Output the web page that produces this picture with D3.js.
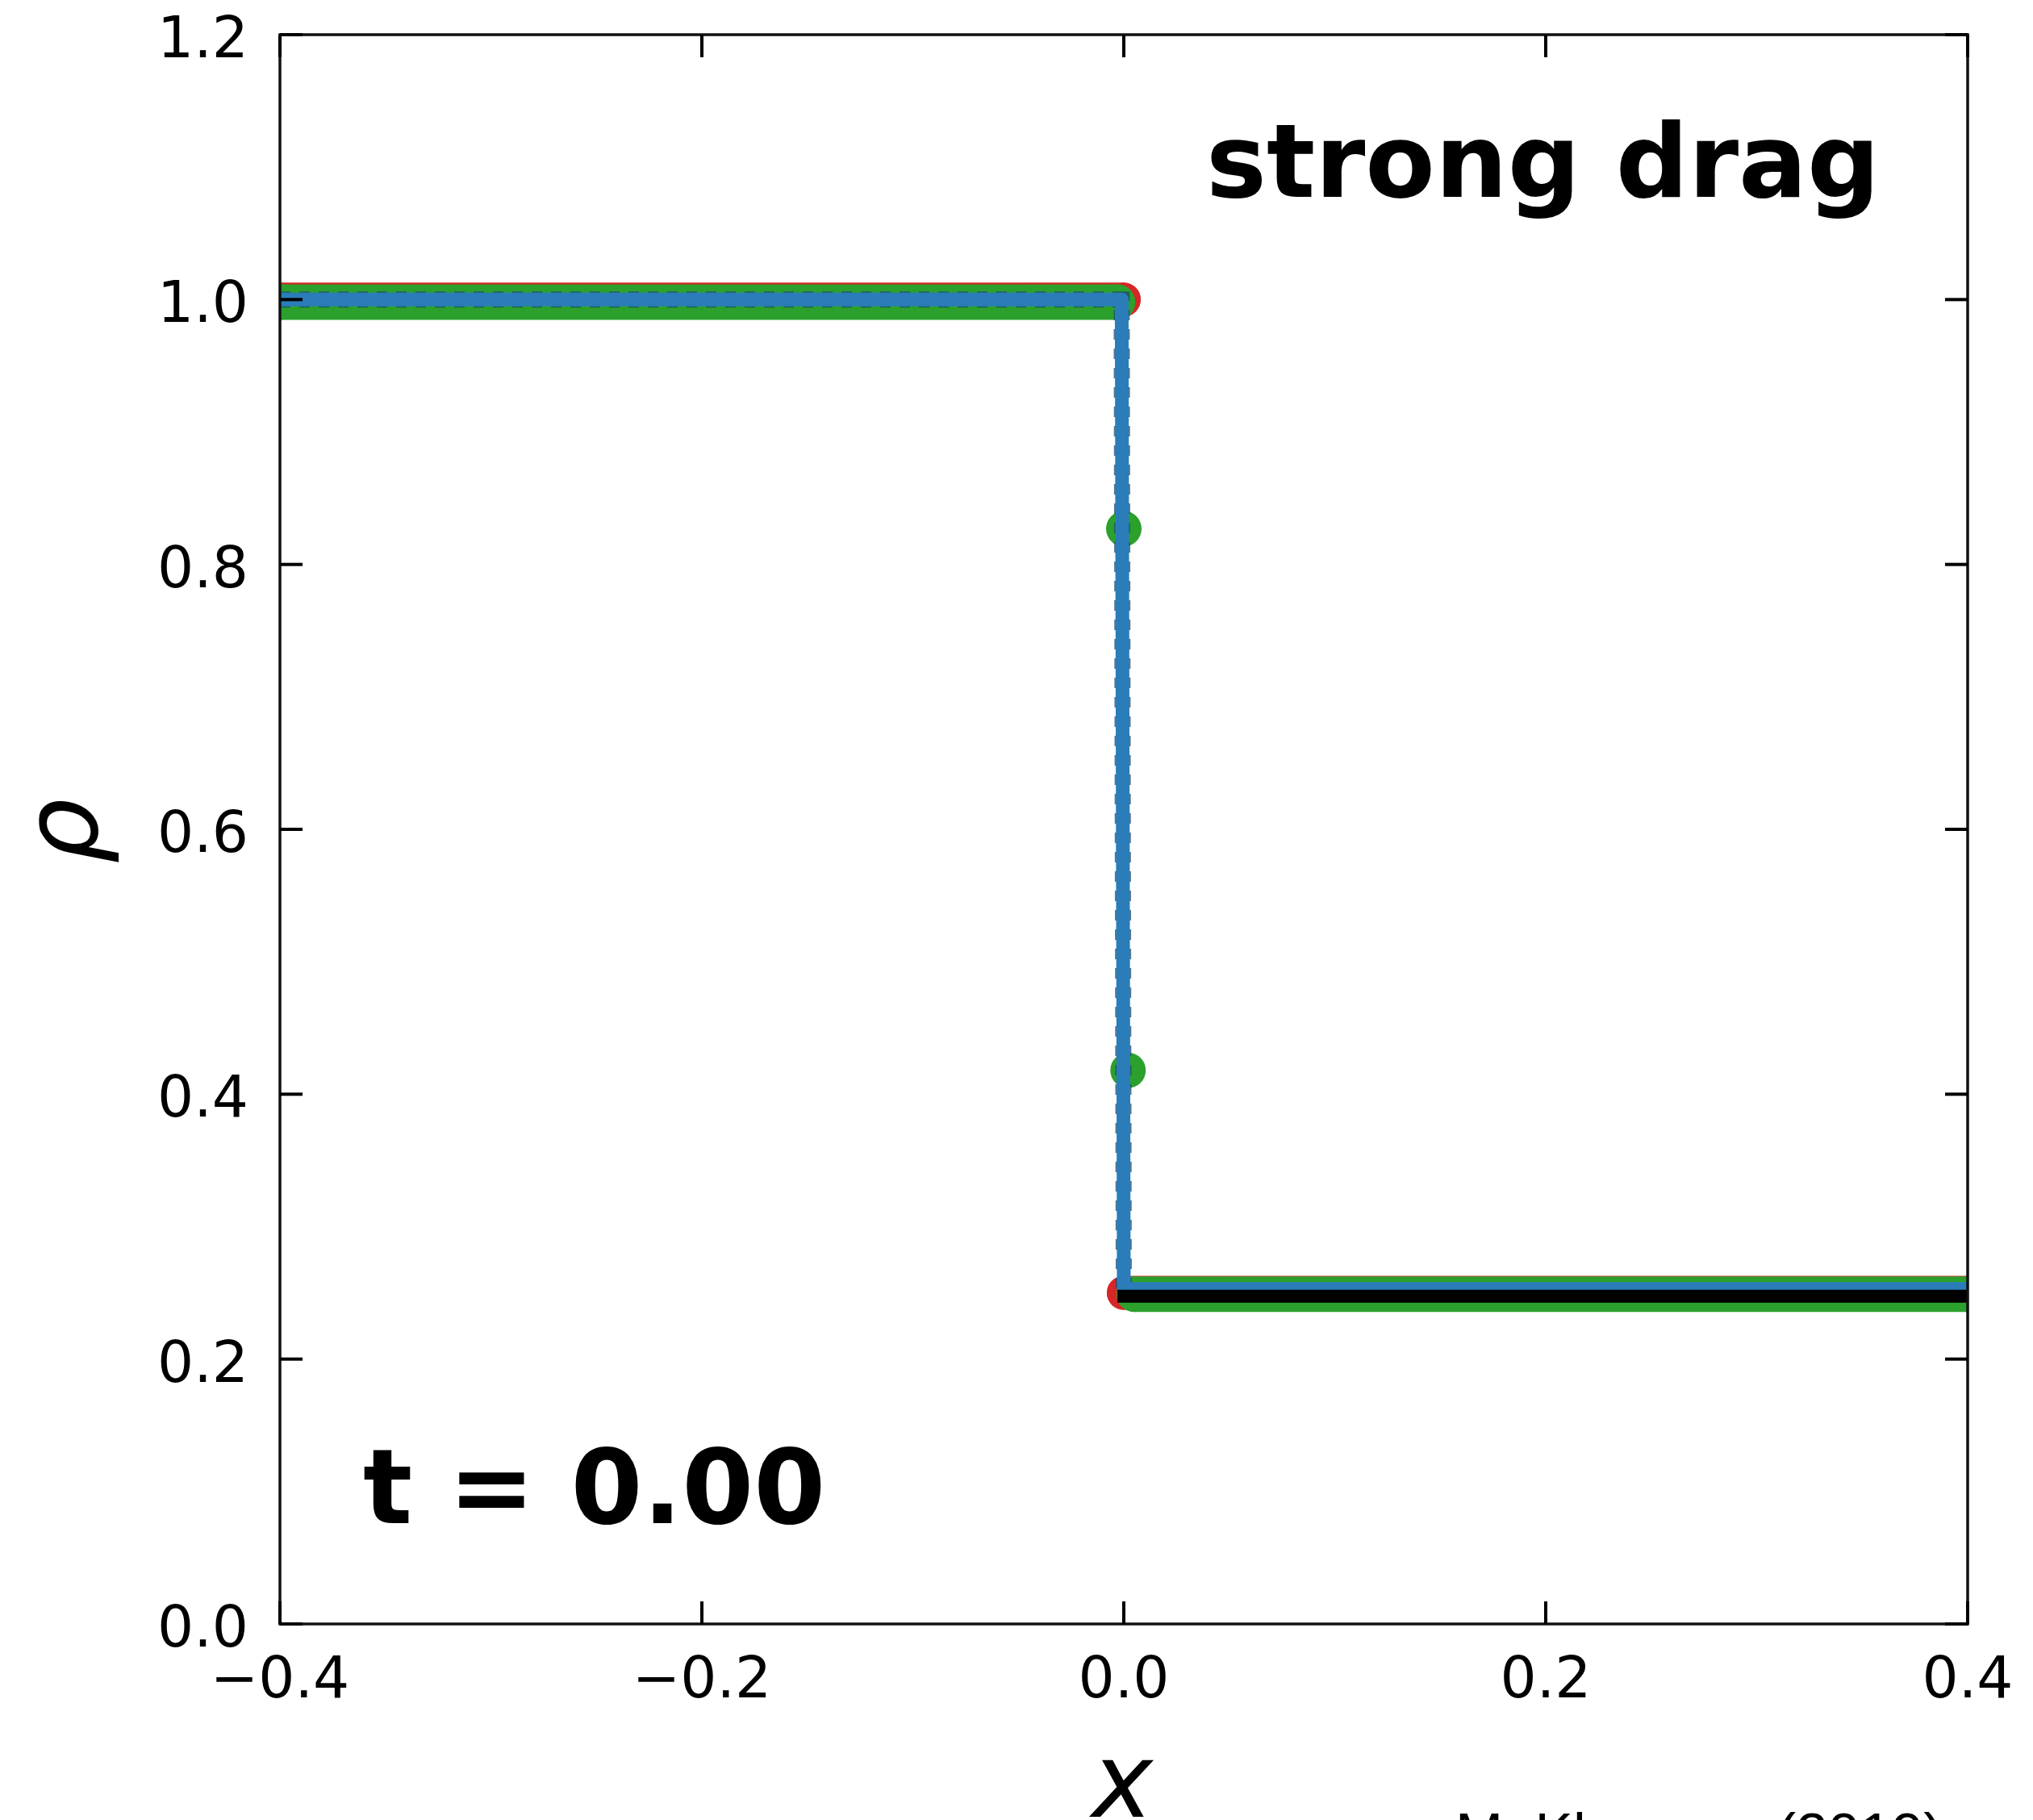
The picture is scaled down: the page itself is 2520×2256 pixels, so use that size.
<!DOCTYPE html>
<html lang="en">

<head>
    <meta charset="UTF-8" />
    <title>Dust-gas shock tube - strong drag</title>
    <script src="https://d3js.org/d3.v7.min.js"></script>
    <style>
        body { margin: 0; background: white; }
    </style>
</head>

<body>
    <script>
        // axis ticks
        var xTicks = [-0.4, -0.2, 0.0, 0.2, 0.4];
        var yTicks = [0.0, 0.2, 0.4, 0.6, 0.8, 1.0, 1.2];

        // red markers (analytic state)
        var redX = [-0.4, 0.0, 0.0, 0.4];
        var redRho = [1.0, 1.0, 0.25, 0.25];

        // green markers (cells)
        var greenX = [-0.4, -0.003, 0.0, 0.002, 0.005, 0.4];
        var greenRho = [0.998, 0.998, 0.827, 0.418, 0.249, 0.249];

        // dark dashed line
        var dashX = [-0.4, -0.001, 0.0, 0.4];
        var dashRho = [1.0, 1.0, 0.25, 0.25];

        // blue solid line
        var blueX = [-0.4, -0.001, 0.0, 0.4];
        var blueRho = [1.0, 1.0, 0.253, 0.253];

        // black line, right state
        var blackX = [-0.003, 0.4];
        var blackRho = [0.2475, 0.2475];

        var w = 2520;
        var h = 2256;
        // note: "top" clashes with window.top, so prefix these
        var plotLeft = 347, plotRight = 2439, plotTop = 43, plotBottom = 2013;

        var xScale = d3.scaleLinear()
            .domain([-0.4, 0.4])
            .range([plotLeft, plotRight]);

        var yScale = d3.scaleLinear()
            .domain([0, 1.2])
            .range([plotBottom, plotTop]);

        var svg = d3.select("body")
            .append("svg")
            .attr("width", w)
            .attr("height", h)
            .style("display", "block");

        svg.append("rect")
            .attr("width", w)
            .attr("height", h)
            .attr("fill", "white");

        svg.append("clipPath")
            .attr("id", "plotclip")
            .append("rect")
            .attr("x", plotLeft)
            .attr("y", plotTop)
            .attr("width", plotRight - plotLeft)
            .attr("height", plotBottom - plotTop);

        var plot = svg.append("g").attr("clip-path", "url(#plotclip)");

        function zip(xs, ys) {
            return xs.map(function (x, i) { return [x, ys[i]]; });
        }

        var line = d3.line()
            .x(function (d) { return xScale(d[0]); })
            .y(function (d) { return yScale(d[1]); });

        // marker series: plateaus drawn as dense marker rows, plus single markers
        function markerSeries(xs, ys, color, r) {
            var pts = zip(xs, ys);
            for (var i = 0; i < pts.length - 1; i++) {
                if (Math.abs(pts[i][1] - pts[i + 1][1]) < 1e-6) {
                    plot.append("path")
                        .attr("d", line([pts[i], pts[i + 1]]))
                        .attr("fill", "none")
                        .attr("stroke", color)
                        .attr("stroke-width", 2 * r)
                        .attr("stroke-linecap", "round");
                }
            }
            plot.selectAll(null)
                .data(pts)
                .enter()
                .append("circle")
                .attr("cx", function (d) { return xScale(d[0]); })
                .attr("cy", function (d) { return yScale(d[1]); })
                .attr("r", r)
                .attr("fill", color);
        }

        markerSeries(redX, redRho, "#d62728", 21);
        markerSeries(greenX, greenRho, "#2ca02c", 22);

        plot.append("path")
            .attr("d", line(zip(dashX, dashRho)))
            .attr("fill", "none")
            .attr("stroke", "#1c4a6e")
            .attr("stroke-opacity", 0.75)
            .attr("stroke-width", 20)
            .attr("stroke-dasharray", "13,11");

        plot.append("path")
            .attr("d", line(zip(blueX, blueRho)))
            .attr("fill", "none")
            .attr("stroke", "#2a7db8")
            .attr("stroke-width", 17)
            .attr("stroke-linejoin", "round");

        plot.append("path")
            .attr("d", line(zip(blackX, blackRho)))
            .attr("fill", "none")
            .attr("stroke", "black")
            .attr("stroke-width", 16);

        // frame
        svg.append("rect")
            .attr("x", plotLeft)
            .attr("y", plotTop)
            .attr("width", plotRight - plotLeft)
            .attr("height", plotBottom - plotTop)
            .attr("fill", "none")
            .attr("stroke", "#111")
            .attr("stroke-width", 3.5);

        // inward ticks on all four sides
        var tickLen = 28;
        var ticks = svg.append("g").attr("stroke", "black").attr("stroke-width", 4);
        xTicks.forEach(function (t) {
            ticks.append("line").attr("x1", xScale(t)).attr("x2", xScale(t))
                .attr("y1", plotBottom).attr("y2", plotBottom - tickLen);
            ticks.append("line").attr("x1", xScale(t)).attr("x2", xScale(t))
                .attr("y1", plotTop).attr("y2", plotTop + tickLen);
        });
        yTicks.forEach(function (t) {
            ticks.append("line").attr("y1", yScale(t)).attr("y2", yScale(t))
                .attr("x1", plotLeft).attr("x2", plotLeft + tickLen);
            ticks.append("line").attr("y1", yScale(t)).attr("y2", yScale(t))
                .attr("x1", plotRight).attr("x2", plotRight - tickLen);
        });

        var fmt = function (v) { return d3.format(".1f")(v).replace("-", "\u2212"); };

        svg.selectAll(".xlab")
            .data(xTicks)
            .enter()
            .append("text")
            .attr("x", function (d) { return xScale(d); })
            .attr("y", plotBottom + 91)
            .attr("text-anchor", "middle")
            .attr("font-family", "DejaVu Sans")
            .attr("font-size", "71px")
            .text(fmt);

        svg.selectAll(".ylab")
            .data(yTicks)
            .enter()
            .append("text")
            .attr("x", plotLeft - 39)
            .attr("y", function (d) { return yScale(d) + 28; })
            .attr("text-anchor", "end")
            .attr("font-family", "DejaVu Sans")
            .attr("font-size", "71px")
            .text(fmt);

        // axis labels
        svg.append("text")
            .attr("x", 1391)
            .attr("y", 2252)
            .attr("text-anchor", "middle")
            .attr("font-family", "DejaVu Sans")
            .attr("font-style", "italic")
            .attr("font-size", "128px")
            .text("x");

        svg.append("text")
            .attr("transform", "translate(120,1030) rotate(-90)")
            .attr("text-anchor", "middle")
            .attr("font-family", "DejaVu Sans")
            .attr("font-style", "italic")
            .attr("font-size", "128px")
            .text("\u03c1");

        // annotations
        svg.append("text")
            .attr("x", 1495)
            .attr("y", 244)
            .attr("font-family", "DejaVu Sans")
            .attr("font-weight", "bold")
            .attr("font-size", "126px")
            .text("strong drag");

        svg.append("text")
            .attr("x", 450)
            .attr("y", 1888)
            .attr("font-family", "DejaVu Sans")
            .attr("font-weight", "bold")
            .attr("font-size", "128px")
            .text("t = 0.00");

        svg.append("text")
            .attr("x", 1804)
            .attr("y", 2297)
            .attr("font-family", "Liberation Sans")
            .attr("font-size", "71px")
            .text("M. Klausner (2019)");
    </script>
</body>

</html>
